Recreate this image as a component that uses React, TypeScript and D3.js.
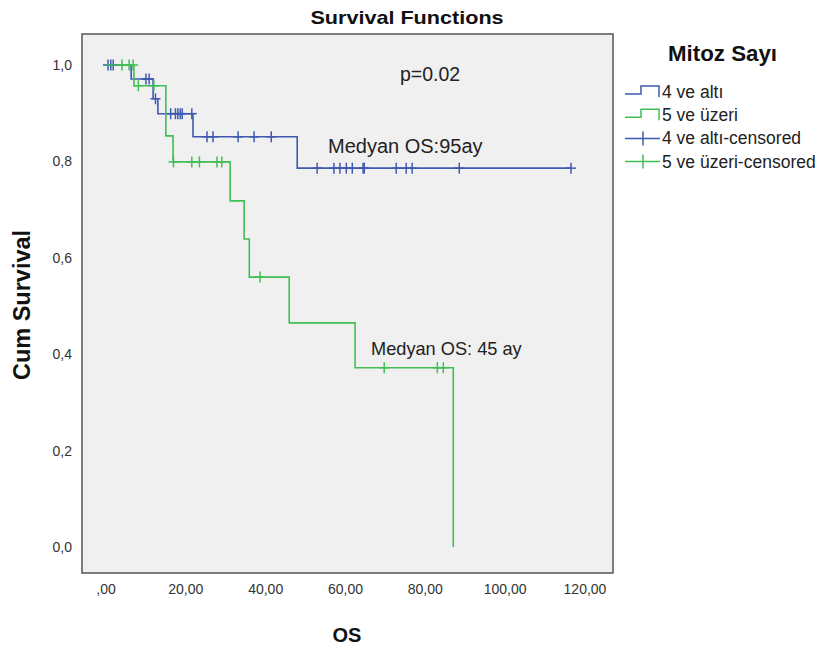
import React from "react";
import * as d3 from "d3";

// Kaplan–Meier steps: event times (months) and survival after each event
const lowTimes = [0, 6.3, 11.8, 13.0, 21.8, 47.9];
const lowSurv = [1.0, 0.971, 0.93, 0.899, 0.851, 0.786];
const lowCensored = [
  0.5, 1.2, 1.8, 10.0, 10.8, 12.4, 16.2, 17.4, 18.0, 18.6, 19.1, 21.5, 25.3, 26.8,
  33.1, 37.1, 41.4, 52.9, 57.1, 58.6, 60.2, 61.7, 64.4, 64.7, 72.7, 75.2, 76.7, 88.5,
  116.5,
];

const highTimes = [0, 7.0, 15.0, 16.8, 31.1, 34.6, 35.9, 45.9, 62.4, 87.0];
const highSurv = [1.0, 0.957, 0.853, 0.799, 0.718, 0.639, 0.56, 0.465, 0.372, 0.0];
const highCensored = [
  4.0, 5.8, 6.8, 8.1, 12.0, 16.9, 21.5, 23.4, 27.8, 29.0, 38.6, 69.7, 83.0, 84.5,
];

const xTickValues = [0, 20, 40, 60, 80, 100, 120];
const xTickLabels = [",00", "20,00", "40,00", "60,00", "80,00", "100,00", "120,00"];
const yTickValues = [0, 0.2, 0.4, 0.6, 0.8, 1.0];
const yTickLabels = ["0,0", "0,2", "0,4", "0,6", "0,8", "1,0"];

const legendLabels = ["4 ve altı", "5 ve üzeri", "4 ve altı-censored", "5 ve üzeri-censored"];

const BLUE = "#4059b0";
const GREEN = "#41bf55";
const FONT = "'Liberation Sans', Arial, sans-serif";

const frame = { left: 82, right: 613, top: 34, bottom: 573 };
const x = d3.scaleLinear().domain([0, 120]).range([106, 585]);
const y = d3.scaleLinear().domain([0, 1]).range([547, 65]);

const stepLine = d3
  .line<[number, number]>()
  .x((d) => x(d[0]))
  .y((d) => y(d[1]))
  .curve(d3.curveStepAfter);

function survAt(times: number[], surv: number[], t: number) {
  let s = surv[0];
  for (let i = 0; i < times.length; i++) if (times[i] <= t) s = surv[i];
  return s;
}

function curvePoints(times: number[], surv: number[], censored: number[]) {
  const pts: [number, number][] = times.map((t, i) => [t, surv[i]]);
  const lastC = d3.max(censored) ?? 0;
  const lastT = times[times.length - 1];
  if (lastC > lastT) pts.push([lastC, surv[surv.length - 1]]);
  return pts;
}

function Censor({ cx, cy, color }: { cx: number; cy: number; color: string }) {
  return (
    <g stroke={color} strokeWidth={1.5}>
      <line x1={cx - 5} x2={cx + 5} y1={cy} y2={cy} />
      <line x1={cx} x2={cx} y1={cy - 5.5} y2={cy + 5.5} />
    </g>
  );
}

export default function App() {
  const series = [
    { times: lowTimes, surv: lowSurv, cens: lowCensored, color: BLUE },
    { times: highTimes, surv: highSurv, cens: highCensored, color: GREEN },
  ];
  const legendColors = [BLUE, GREEN, BLUE, GREEN];
  return (
    <svg
      width={822}
      height={651}
      style={{ position: "absolute", left: 0, top: 0, background: "#fff" }}
      fontFamily={FONT}
    >
      <text
        transform="translate(407,24) scale(1.2,1)"
        textAnchor="middle"
        fontSize={18}
        fontWeight="bold"
        fill="#111"
      >
        Survival Functions
      </text>

      <rect
        x={frame.left}
        y={frame.top}
        width={frame.right - frame.left}
        height={frame.bottom - frame.top}
        fill="#f0f0f0"
        stroke="#555"
        strokeWidth={1.5}
      />

      {yTickValues.map((v, i) => (
        <text key={"y" + i} x={72} y={y(v) + 5} textAnchor="end" fontSize={14} fill="#333">
          {yTickLabels[i]}
        </text>
      ))}
      {xTickValues.map((v, i) => (
        <text key={"x" + i} x={x(v)} y={594} textAnchor="middle" fontSize={14} fill="#333">
          {xTickLabels[i]}
        </text>
      ))}

      <text
        transform={`translate(30,305) rotate(-90)`}
        textAnchor="middle"
        fontSize={23.5}
        fontWeight="bold"
        fill="#111"
      >
        Cum Survival
      </text>
      <text x={347} y={642} textAnchor="middle" fontSize={20} fontWeight="bold" fill="#111">
        OS
      </text>

      {series.map((s, si) => (
        <g key={"s" + si}>
          <path
            d={stepLine(curvePoints(s.times, s.surv, s.cens)) ?? ""}
            fill="none"
            stroke={s.color}
            strokeWidth={1.6}
          />
          {s.cens.map((t, i) => (
            <Censor key={i} cx={x(t)} cy={y(survAt(s.times, s.surv, t))} color={s.color} />
          ))}
        </g>
      ))}

      <text x={400} y={81} fontSize={19.5} fill="#222">
        p=0.02
      </text>
      <text x={328} y={153} fontSize={20} fill="#222">
        Medyan OS:95ay
      </text>
      <text x={371} y={355} fontSize={18.2} fill="#222">
        Medyan OS: 45 ay
      </text>

      <text x={722.5} y={61} textAnchor="middle" fontSize={22.3} fontWeight="bold" fill="#111">
        Mitoz Sayı
      </text>
      {legendLabels.map((lab, i) => {
        const cy = 92 + i * 23.2;
        const c = legendColors[i];
        return (
          <g key={"l" + i}>
            {i < 2 ? (
              <path
                d={`M625,${cy + 2}H641V${cy - 6}H659V${cy + 5}`}
                fill="none"
                stroke={c}
                strokeWidth={1.5}
              />
            ) : (
              <g stroke={c} strokeWidth={1.5}>
                <line x1={625} x2={660} y1={cy} y2={cy} />
                <line x1={643} x2={643} y1={cy - 7} y2={cy + 7} />
              </g>
            )}
            <text x={662} y={cy + 6} fontSize={17.5} fill="#222">
              {lab}
            </text>
          </g>
        );
      })}
    </svg>
  );
}
